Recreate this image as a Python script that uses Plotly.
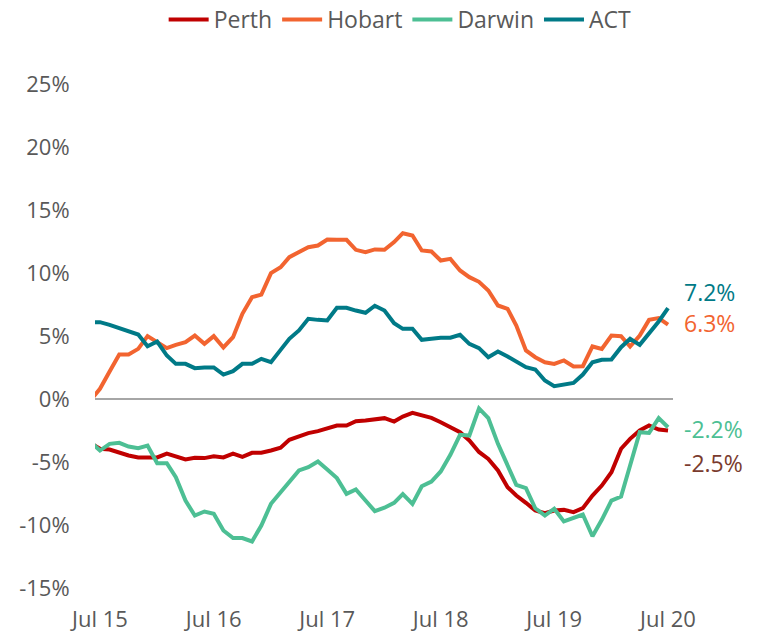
import plotly.graph_objects as go
import pandas as pd

# monthly, Jun 2015 (clipped stub) to Jul 2020
months = pd.date_range('2015-06-01', '2020-07-01', freq='MS')

perth = [-3.5, -3.95, -4.01, -4.27, -4.48, -4.64, -4.62, -4.64, -4.33, -4.56, -4.8,
         -4.67, -4.69, -4.54, -4.64, -4.33, -4.59, -4.27, -4.27, -4.09, -3.87,
         -3.24, -2.95, -2.71, -2.55, -2.29, -2.1, -2.1, -1.76, -1.71, -1.65,
         -1.52, -1.79, -1.39, -1.1, -1.31, -1.5, -1.84, -2.24, -2.63, -3.29,
         -4.2, -4.75, -5.67, -7.0, -7.66, -8.24, -8.85, -9.06, -8.85, -8.8,
         -8.98, -8.66, -7.66, -6.87, -5.81, -3.95, -3.16, -2.5, -2.1, -2.42, -2.5]

hobart = [-0.1, 0.81, 2.18, 3.53, 3.53, 3.98, 4.99, 4.51, 4.04, 4.3, 4.51,
          5.04, 4.38, 4.99, 4.09, 4.91, 6.76, 8.08, 8.29, 9.99, 10.46,
          11.26, 11.65, 12.05, 12.18, 12.66, 12.63, 12.63, 11.84, 11.65, 11.87,
          11.84, 12.45, 13.16, 12.98, 11.79, 11.71, 10.99, 11.12, 10.2, 9.67,
          9.3, 8.61, 7.42, 7.16, 5.83, 3.85, 3.32, 2.92, 2.79, 3.06,
          2.58, 2.6, 4.17, 3.98, 5.04, 4.99, 4.17, 5.04, 6.28, 6.42, 5.9]

darwin = [-3.4, -4.09, -3.56, -3.48, -3.77, -3.9, -3.69, -5.09, -5.09, -6.2, -8.06,
          -9.25, -8.93, -9.11, -10.44, -11.04, -11.04, -11.31, -10.04, -8.32, -7.4,
          -6.55, -5.67, -5.41, -4.96, -5.6, -6.28, -7.53, -7.18, -8.06, -8.9,
          -8.63, -8.24, -7.55, -8.32, -6.92, -6.55, -5.75, -4.43, -2.84, -2.9,
          -0.75, -1.52, -3.56, -5.28, -6.81, -7.08, -8.67, -9.25, -8.71, -9.72,
          -9.46, -9.17, -10.89, -9.59, -8.06, -7.74, -5.28, -2.63, -2.69, -1.52, -2.24]

act = [6.1, 6.1, 5.89, 5.62, 5.44, 5.12, 4.19, 4.56, 3.45, 2.79, 2.79,
       2.45, 2.5, 2.5, 1.94, 2.21, 2.79, 2.79, 3.19, 2.92, 3.9,
       4.78, 5.44, 6.36, 6.28, 6.23, 7.24, 7.24, 7.02, 6.84, 7.4,
       7.02, 6.02, 5.57, 5.57, 4.7, 4.78, 4.86, 4.86, 5.1, 4.38,
       4.04, 3.32, 3.77, 3.37, 2.98, 2.53, 2.34, 1.47, 1.02, 1.15,
       1.28, 1.94, 2.92, 3.11, 3.13, 4.11, 4.78, 4.3, 5.17, 6.15, 7.21]

series = [('Perth', perth, '#c00000'),
          ('Hobart', hobart, '#f26430'),
          ('Darwin', darwin, '#4dbf94'),
          ('ACT', act, '#007a87')]

end_labels = [('7.2%', 8.5, '#007a87'), ('6.3%', 6.05, '#f26430'),
              ('-2.2%', -2.4, '#4dbf94'), ('-2.5%', -5.05, '#7a3b2e')]

tick_dates = pd.date_range('2015-07-01', '2020-07-01', freq='12MS')
tick_text = ['Jul 15', 'Jul 16', 'Jul 17', 'Jul 18', 'Jul 19', 'Jul 20']
y_ticks = [-15, -10, -5, 0, 5, 10, 15, 20, 25]

font = 'Open Sans'
grey = '#595959'

fig = go.Figure()
for name, vals, col in series:
    fig.add_trace(go.Scatter(x=months, y=vals, name=name, mode='lines',
                             line=dict(color=col, width=4)))

for txt, yv, col in end_labels:
    fig.add_annotation(x=months[-1], y=yv, text=txt, showarrow=False,
                       xanchor='left', xshift=14,
                       font=dict(family=font, size=23, color=col))

fig.update_xaxes(range=['2015-06-15', '2020-07-17'], tickvals=tick_dates, ticktext=tick_text,
                 tickangle=0,
                 showgrid=False, showline=False, zeroline=False,
                 ticks='outside', ticklen=12, tickcolor='rgba(0,0,0,0)',
                 tickfont=dict(family=font, size=22, color=grey))
fig.update_yaxes(range=[-15, 25], tickvals=y_ticks,
                 ticktext=[f'{v}%' for v in y_ticks],
                 showgrid=False, showline=False,
                 zeroline=True, zerolinecolor='#a6a6a6', zerolinewidth=2,
                 ticks='outside', ticklen=20, tickcolor='rgba(0,0,0,0)',
                 tickfont=dict(family=font, size=22, color=grey))

# page adds an 8px body margin, so the figure is sized to fit inside it
fig.update_layout(
    width=760, height=626,
    margin=dict(l=87, r=95, t=76, b=46, autoexpand=False),
    plot_bgcolor='white', paper_bgcolor='white',
    legend=dict(orientation='h', x=0.516, xanchor='center', xref='container',
                y=1.128, yanchor='middle', yref='paper',
                font=dict(family=font, size=23, color=grey),
                itemwidth=40, traceorder='normal'),
)

fig.write_html('out.html')
